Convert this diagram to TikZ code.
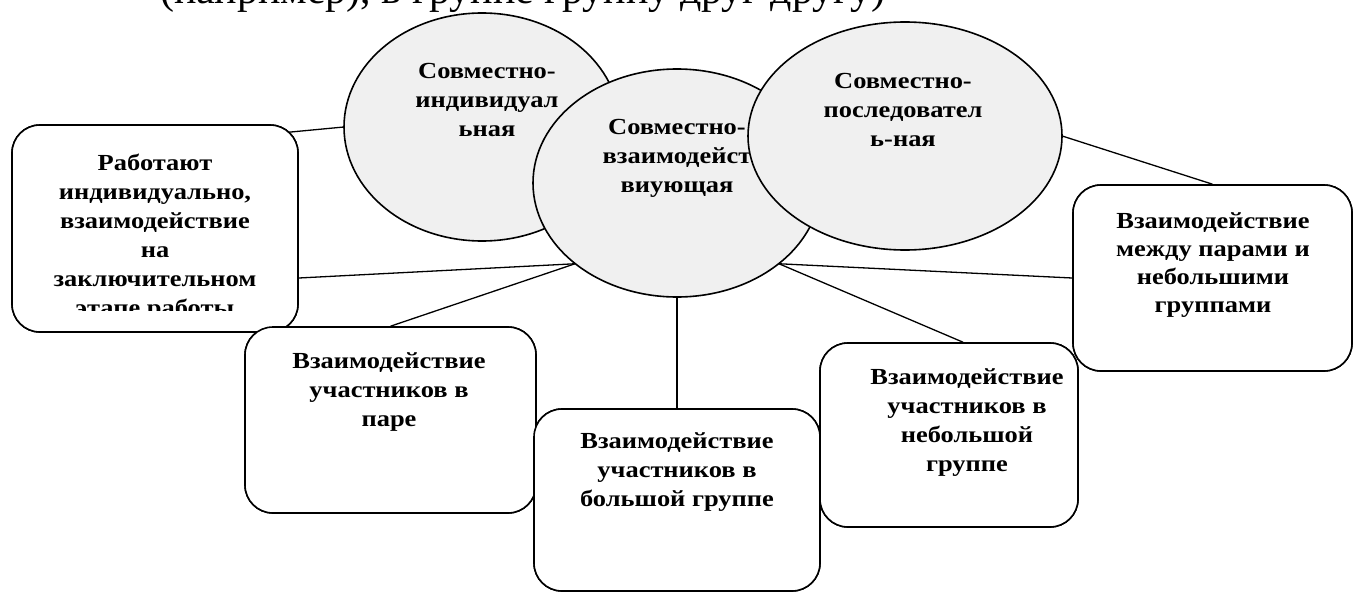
\documentclass[tikz,border=0pt]{standalone}
\usepackage{fontspec}
\setmainfont{Liberation Serif}[FakeStretch=1.15]
\newfontfamily\plainserif{Liberation Serif}
\usetikzlibrary{shapes.geometric,calc}
\definecolor{bubblegray}{HTML}{F0F0F0}
\tikzset{
  bubble/.style={ellipse, draw=black, fill=bubblegray, line width=1.6pt, inner sep=0pt},
  card/.style={rectangle, rounded corners=28pt, draw=black, fill=white, line width=1.6pt, inner sep=0pt},
  link/.style={draw=black, line width=1.3pt},
  lbl/.style={font=\bfseries\fontsize{23}{29}\selectfont, align=center, inner sep=0pt}
}
\begin{document}
\begin{tikzpicture}[x=1pt,y=-1pt]
\useasboundingbox[fill=white] (0,0) rectangle (1354,594);

% cropped line of text at the top
\node[anchor=base west, inner sep=0pt] (toptext) at (160,4)
  {\plainserif\fontsize{42}{42}\selectfont (например), в группе группу друг другу)};

% boxes (positions only)
\path
  node[card, minimum width=286pt, minimum height=207pt] (A) at (155,228.5) {}
  node[card, minimum width=291pt, minimum height=186pt] (B) at (390.5,420) {}
  node[card, minimum width=286pt, minimum height=182pt] (C) at (677,500) {}
  node[card, minimum width=258pt, minimum height=184pt] (D) at (949,435) {}
  node[card, minimum width=279pt, minimum height=186pt] (E) at (1212.5,278) {};

% ellipses (positions only, drawn later)
\path
  node[ellipse, minimum width=276pt, minimum height=228pt, inner sep=0pt] (E1) at (482,127) {}
  node[ellipse, minimum width=288pt, minimum height=228pt, inner sep=0pt] (E2) at (677,183) {}
  node[ellipse, minimum width=314pt, minimum height=228pt, inner sep=0pt] (E3) at (905,136) {};

% connectors
\draw[link] (E1.west) -- ($(A.north east)+(-10,8)$);
\draw[link] (E2.south west) -- ($(A.east)+(0,49.5)$);
\draw[link] (E2.south west) -- (B.north);
\draw[link] (E2.south) -- (C.north);
\draw[link] (E2.south east) -- ($(D.north)+(14,0)$);
\draw[link] (E2.south east) -- (E.west);
\draw[link] (E3.east) -- (E.north);

% boxes drawn over connector ends
\node[card, minimum width=286pt, minimum height=207pt] (A2) at (A) {};
\node[card, minimum width=291pt, minimum height=186pt] (B2) at (B) {};
\node[card, minimum width=286pt, minimum height=182pt] (C2) at (C) {};
\node[card, minimum width=258pt, minimum height=184pt] (D2) at (D) {};
\node[card, minimum width=279pt, minimum height=186pt] (E2b) at (E) {};

% box texts
\begin{scope}
  \clip (12,125) rectangle (298,310);
  \node[lbl] (At) at (155,237) {Работают\\индивидуально,\\взаимодействие\\на\\заключительном\\этапе работы};
\end{scope}
\node[lbl] (Bt) at (389,392) {Взаимодействие\\участников в\\паре};
\node[lbl] (Ct) at (677,472.5) {Взаимодействие\\участников в\\большой группе};
\node[lbl] (Dt) at (967,423) {Взаимодействие\\участников в\\небольшой\\группе};
\node[lbl, font=\bfseries\fontsize{23}{28}\selectfont] (Et) at (1213,265) {Взаимодействие\\между парами и\\небольшими\\группами};

% ellipses with their texts
\node[bubble, minimum width=276pt, minimum height=228pt] (E1b) at (E1) {};
\node[lbl] (E1t) at (487,100) {Совместно-\\индивидуал\\ьная};
\node[bubble, minimum width=288pt, minimum height=228pt] (E2c) at (E2) {};
\node[lbl] (E2t) at (677,158) {Совместно-\\взаимодейст\\виующая};
\node[bubble, minimum width=314pt, minimum height=228pt] (E3b) at (E3) {};
\node[lbl] (E3t) at (903,110) {Совместно-\\последовател\\ь-ная};
\end{tikzpicture}
\end{document}
